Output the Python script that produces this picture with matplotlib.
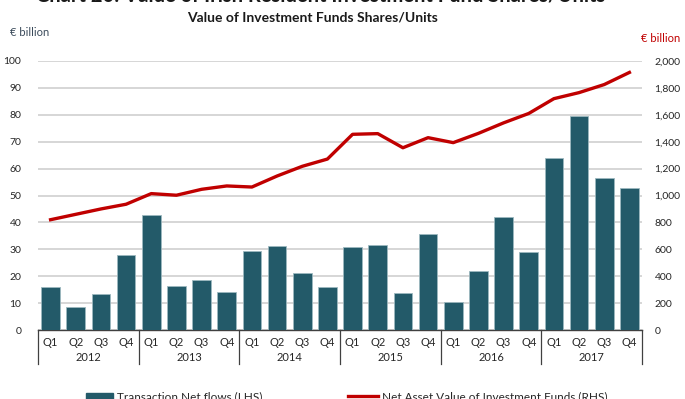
import matplotlib.pyplot as plt
import numpy as np
from matplotlib.lines import Line2D
from matplotlib.patches import Rectangle
import matplotlib.transforms as mtransforms

plt.rcParams['font.family'] = ['Lato', 'DejaVu Sans']

years = ["2012", "2013", "2014", "2015", "2016", "2017"]
quarters = ["Q1", "Q2", "Q3", "Q4"]
net_flows = [16.0, 8.5, 13.3, 27.8,
             42.7, 16.2, 18.7, 14.3,
             29.4, 31.3, 21.2, 15.8,
             31.0, 31.6, 13.6, 35.7,
             10.5, 21.8, 42.0, 29.0,
             64.0, 79.5, 56.5, 52.7]
nav = [820, 860, 900, 935,
       1014, 1002, 1046, 1071,
       1063, 1145, 1217, 1271,
       1455, 1460, 1355, 1430,
       1393, 1462, 1540, 1610,
       1720, 1765, 1825, 1915]

bar_col = "#235a69"
line_col = "#c00000"
txt_col = "#262626"

x = np.arange(len(net_flows))

fig = plt.figure(figsize=(6.85, 3.99), dpi=100)
ax = fig.add_axes([38 / 685, 1 - 330 / 399, (642 - 38) / 685, (330 - 61) / 399])
ax2 = ax.twinx()

ax.bar(x, net_flows, width=0.74, color=bar_col, edgecolor="#9db8bf", linewidth=0.6, zorder=3)
ax2.plot(x, nav, color=line_col, linewidth=2.4, zorder=4)

ax.set_xlim(-0.5, len(x) - 0.5)
ax.set_ylim(0, 100)
ax2.set_ylim(0, 2000)
ax.set_yticks(np.arange(0, 101, 10))
ax2.set_yticks(np.arange(0, 2001, 200))
ax2.set_yticklabels([f"{v:,}" for v in range(0, 2001, 200)])
ax.yaxis.grid(True, color="#d0d0d0", linewidth=1.2, zorder=0)
ax.set_axisbelow(True)

for a in (ax, ax2):
    for s in a.spines.values():
        s.set_visible(False)
    a.tick_params(length=0, labelsize=7.5, colors=txt_col)
ax.spines["bottom"].set_visible(True)
ax.spines["bottom"].set_color("#404040")
ax.spines["bottom"].set_linewidth(1.0)
ax.tick_params(axis="y", pad=12)
ax2.tick_params(axis="y", pad=9)

# quarter and year category labels with separators
ax.set_xticks(x)
ax.set_xticklabels(quarters * len(years), fontsize=8, color=txt_col)
ax.tick_params(axis="x", pad=5)
trans = mtransforms.blended_transform_factory(ax.transData, ax.transAxes)
for i, yr in enumerate(years):
    ax.text(i * 4 + 1.5, -0.103, yr, transform=trans, ha="center", va="center",
            fontsize=8, color=txt_col)
for i in range(len(years) + 1):
    ax.add_line(Line2D([i * 4 - 0.5, i * 4 - 0.5], [0, -0.125], transform=trans,
                       color="#404040", linewidth=0.9, clip_on=False))

fig.text(321 / 685, 1 + 5 / 399, "Chart 20: Value of Irish Resident Investment Fund Shares/Units",
         ha="center", va="center", fontsize=14.5, fontweight="bold", color="#1a1a1a")
fig.text(313 / 685, 1 - 17 / 399, "Value of Investment Funds Shares/Units",
         ha="center", va="center", fontsize=10, fontweight="bold", color="#1a1a1a")
fig.text(10 / 685, 1 - 33 / 399, "€ billion", ha="left", va="center", fontsize=8, color="#3a4a5a")
fig.text(680 / 685, 1 - 38 / 399, "€ billion", ha="right", va="center", fontsize=8, color=line_col)

# legend along the bottom edge
fig.patches.append(Rectangle((86 / 685, 1 - 402 / 399), 27 / 685, 9 / 399,
                             transform=fig.transFigure, color=bar_col))
fig.text(117 / 685, 1 - 397 / 399, "Transaction Net flows (LHS)", ha="left", va="center",
         fontsize=8.5, color=txt_col)
fig.lines.append(Line2D([348 / 685, 378 / 685], [1 - 396 / 399] * 2, transform=fig.transFigure,
                        color=line_col, linewidth=2.4))
fig.text(382 / 685, 1 - 397 / 399, "Net Asset Value of Investment Funds (RHS)", ha="left",
         va="center", fontsize=8.5, color=txt_col)

fig.savefig("out.png", dpi=100)
